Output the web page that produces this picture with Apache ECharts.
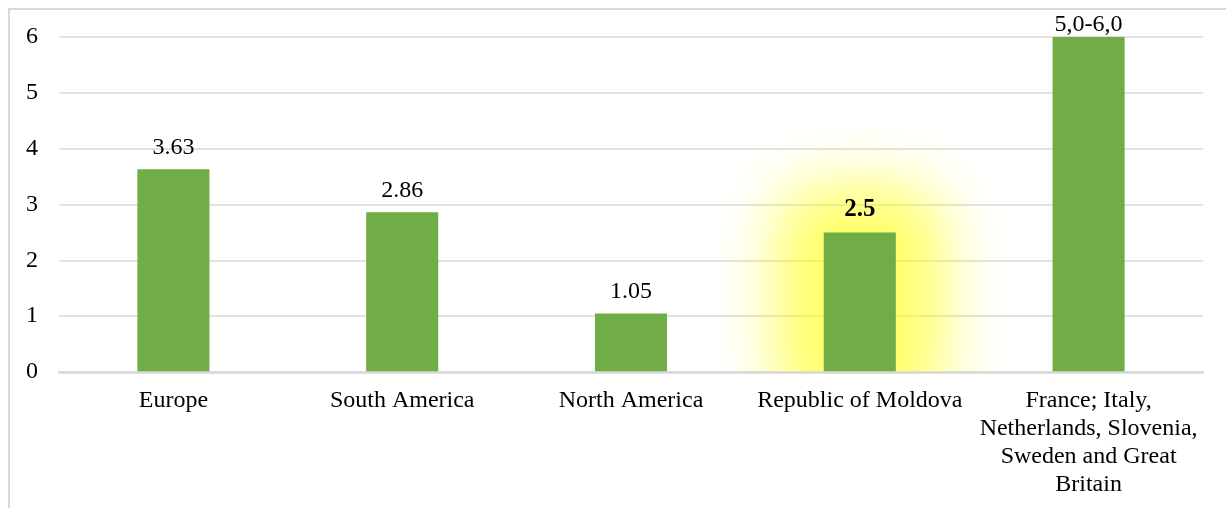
<!DOCTYPE html>
<html>
<head>
<meta charset="utf-8">
<script src="https://cdn.jsdelivr.net/npm/echarts@6/dist/echarts.min.js"></script>
<style>
  html, body { margin: 0; padding: 0; background: #fff; }
  #chart { width: 1226px; height: 508px; }
</style>
</head>
<body>
<div id="chart"></div>
<script>
// Regions compared and their values
const categories = [
  'Europe',
  'South America',
  'North America',
  'Republic of Moldova',
  'France; Italy,\nNetherlands, Slovenia,\nSweden and Great\nBritain'
];
const values = [3.63, 2.86, 1.05, 2.5, 6.0];
const valueLabels = ['3.63', '2.86', '1.05', '2.5', '5,0-6,0'];
const yTicks = [0, 1, 2, 3, 4, 5, 6];
const highlightIndex = 3;

const FONT = "'Liberation Serif', 'Times New Roman', serif";
const GREEN = '#70AD47';
const GRID = { left: 59, right: 23, top: 37, bottom: 136 };
const W = 1226, H = 508;
const BAR_RATIO = 0.315;

// soft yellow halo around the highlighted bar
const GLOW_SPREAD = 48;
const GLOW_BLUR = 60;
const GLOW_SHIFT = 5000;   // shape drawn off-canvas, only its shadow lands on the chart

const seriesData = values.map((v, i) => {
  const item = { value: v };
  if (i === highlightIndex) {
    item.label = { fontWeight: 'bold', fontSize: 25 };
  }
  if (i === values.length - 1) {
    item.label = { distance: 0 };
  }
  return item;
});

function renderGlow(params, api) {
  const top = api.coord([api.value(0), api.value(1)]);
  const base = api.coord([api.value(0), 0]);
  const bw = api.size([1, 0])[0] * BAR_RATIO;
  return {
    type: 'rect',
    silent: true,
    shape: {
      x: top[0] - bw / 2 - GLOW_SPREAD + GLOW_SHIFT,
      y: top[1] - GLOW_SPREAD,
      width: bw + 2 * GLOW_SPREAD,
      height: base[1] - top[1] + 2 * GLOW_SPREAD,
      r: GLOW_SPREAD
    },
    style: {
      fill: '#ffff00',
      shadowBlur: GLOW_BLUR,
      shadowColor: 'rgba(255,255,0,0.6)',
      shadowOffsetX: -GLOW_SHIFT,
      shadowOffsetY: 0
    }
  };
}

const chart = echarts.init(document.getElementById('chart'), null, { renderer: 'canvas' });
chart.setOption({
  animation: false,
  backgroundColor: '#fff',
  textStyle: { fontFamily: FONT, color: '#000' },
  grid: GRID,
  graphic: [
    {
      // keeps the halo inside the plot area
      type: 'rect',
      z: 3,
      silent: true,
      shape: { x: GRID.left, y: H - GRID.bottom + 2, width: W, height: GRID.bottom },
      style: { fill: '#fff' }
    },
    {
      type: 'rect',
      z: 10,
      silent: true,
      shape: { x: 9, y: 9, width: W + 20, height: H + 20 },
      style: { fill: 'none', stroke: '#d9d9d9', lineWidth: 2 }
    }
  ],
  xAxis: {
    type: 'category',
    data: categories,
    z: 5,
    axisLine: { lineStyle: { color: '#d9d9d9', width: 2.5 } },
    axisTick: { show: false },
    axisLabel: {
      interval: 0,
      margin: 15,
      fontFamily: FONT,
      fontSize: 24,
      color: '#000',
      lineHeight: 28
    }
  },
  yAxis: {
    type: 'value',
    min: yTicks[0],
    max: yTicks[yTicks.length - 1],
    interval: 1,
    axisLine: { show: false },
    axisTick: { show: false },
    splitLine: { lineStyle: { color: '#d9d9d9', width: 1.5 } },
    axisLabel: {
      margin: 21,
      fontFamily: FONT,
      fontSize: 24,
      color: '#000'
    }
  },
  series: [
    {
      type: 'custom',
      z: 1,
      silent: true,
      clip: false,
      renderItem: renderGlow,
      data: [[highlightIndex, values[highlightIndex]]]
    },
    {
      type: 'bar',
      z: 2,
      data: seriesData,
      barWidth: (BAR_RATIO * 100) + '%',
      itemStyle: { color: GREEN },
      label: {
        show: true,
        position: 'top',
        distance: 10,
        fontFamily: FONT,
        fontSize: 24,
        color: '#000',
        formatter: p => valueLabels[p.dataIndex]
      }
    }
  ]
});
</script>
</body>
</html>
